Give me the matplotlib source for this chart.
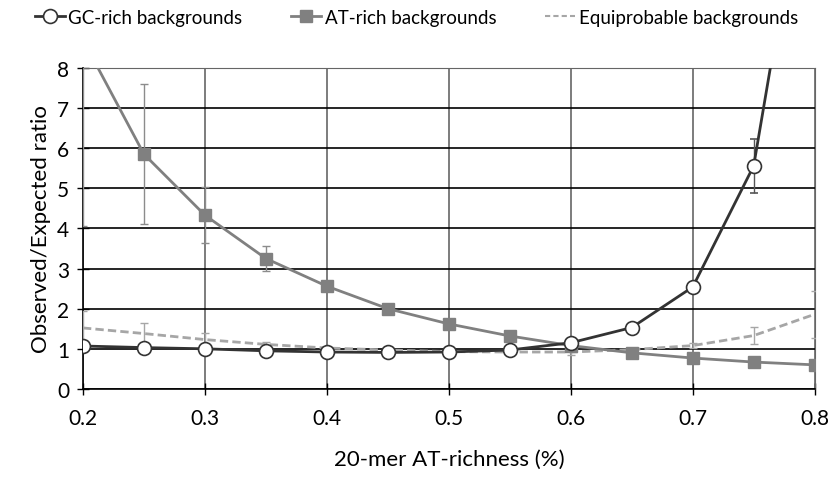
import numpy as np
import matplotlib.pyplot as plt
from matplotlib.ticker import MultipleLocator
from matplotlib.lines import Line2D

# dados
at_richness = [0.2, 0.25, 0.3, 0.35, 0.4, 0.45, 0.5, 0.55, 0.6, 0.65, 0.7, 0.75, 0.8]

gc_rich = [1.07, 1.03, 1.00, 0.95, 0.92, 0.91, 0.92, 0.97, 1.15, 1.53, 2.54, 5.56, 14.5]
gc_err = [0.03, 0.03, 0.03, 0.03, 0.03, 0.03, 0.03, 0.03, 0.05, 0.05, 0.1, 0.67, 2.0]

at_rich = [8.7, 5.85, 4.33, 3.25, 2.56, 2.0, 1.62, 1.32, 1.08, 0.9, 0.77, 0.67, 0.6]
at_err = [4.65, 1.75, 0.69, 0.31, 0.12, 0.05, 0.04, 0.03, 0.03, 0.03, 0.03, 0.03, 0.03]

equi = [1.52, 1.38, 1.23, 1.11, 1.02, 0.97, 0.93, 0.92, 0.92, 0.98, 1.08, 1.33, 1.86]
equi_err = [0.41, 0.27, 0.17, 0.07, 0.03, 0.03, 0.03, 0.03, 0.07, 0.03, 0.07, 0.22, 0.59]

plt.rcParams['font.family'] = ['Lato', 'DejaVu Sans']

fig = plt.figure(figsize=(8.33, 4.85), dpi=100)
ax = fig.add_axes([0.0996, 0.196, 0.8784, 0.662])

eq_style = dict(color='#a6a6a6', lw=2, ls=(0, (3, 1.5)))
at_style = dict(color='#808080', lw=2, marker='s', ms=9)
gc_style = dict(color='#333333', lw=2, marker='o', ms=10, mfc='white', mec='#333333', mew=1.2)

ax.errorbar(at_richness, equi, yerr=equi_err, ecolor='#a6a6a6', elinewidth=1, capsize=3,
            zorder=3, **eq_style)
ax.errorbar(at_richness, at_rich, yerr=at_err, ecolor='#8c8c8c', elinewidth=1, capsize=3,
            zorder=4, **at_style)
ax.errorbar(at_richness, gc_rich, yerr=gc_err, ecolor='#555555', elinewidth=1, capsize=3,
            zorder=5, **gc_style)

ax.set_xlim(0.2, 0.8)
ax.set_ylim(0, 8)
ax.xaxis.set_major_locator(MultipleLocator(0.1))
ax.yaxis.set_major_locator(MultipleLocator(1))
ax.xaxis.set_major_formatter(plt.FuncFormatter(lambda v, p: f'{v:.1f}'))

ax.grid(axis='y', color='black', lw=1.2)
ax.grid(axis='x', color='#666666', lw=1.2)
ax.set_axisbelow(True)
for s in ['top', 'right']:
    ax.spines[s].set_color('#666666')
for s in ['left', 'bottom']:
    ax.spines[s].set_color('black')
    ax.spines[s].set_linewidth(1.2)
ax.tick_params(axis='both', direction='inout', length=8, width=1, labelsize=15, pad=6)
ax.tick_params(axis='x', pad=10)

ax.set_xlabel('20-mer AT-richness (%)', fontsize=16, labelpad=15)
ax.set_ylabel('Observed/Expected ratio', fontsize=16, labelpad=4)

handles = [Line2D([], [], **gc_style), Line2D([], [], **at_style),
           Line2D([], [], color='#a6a6a6', lw=1.5, ls=(0, (2.5, 1.5)))]
labels = ['GC-rich backgrounds', 'AT-rich backgrounds', 'Equiprobable backgrounds']
fig.legend(handles, labels, loc='upper center', bbox_to_anchor=(0.5, 1.015), ncol=3,
           frameon=False, fontsize=13.5, handlelength=1.6, columnspacing=2.6, handletextpad=0.2)

fig.savefig('out.png', dpi=100)
